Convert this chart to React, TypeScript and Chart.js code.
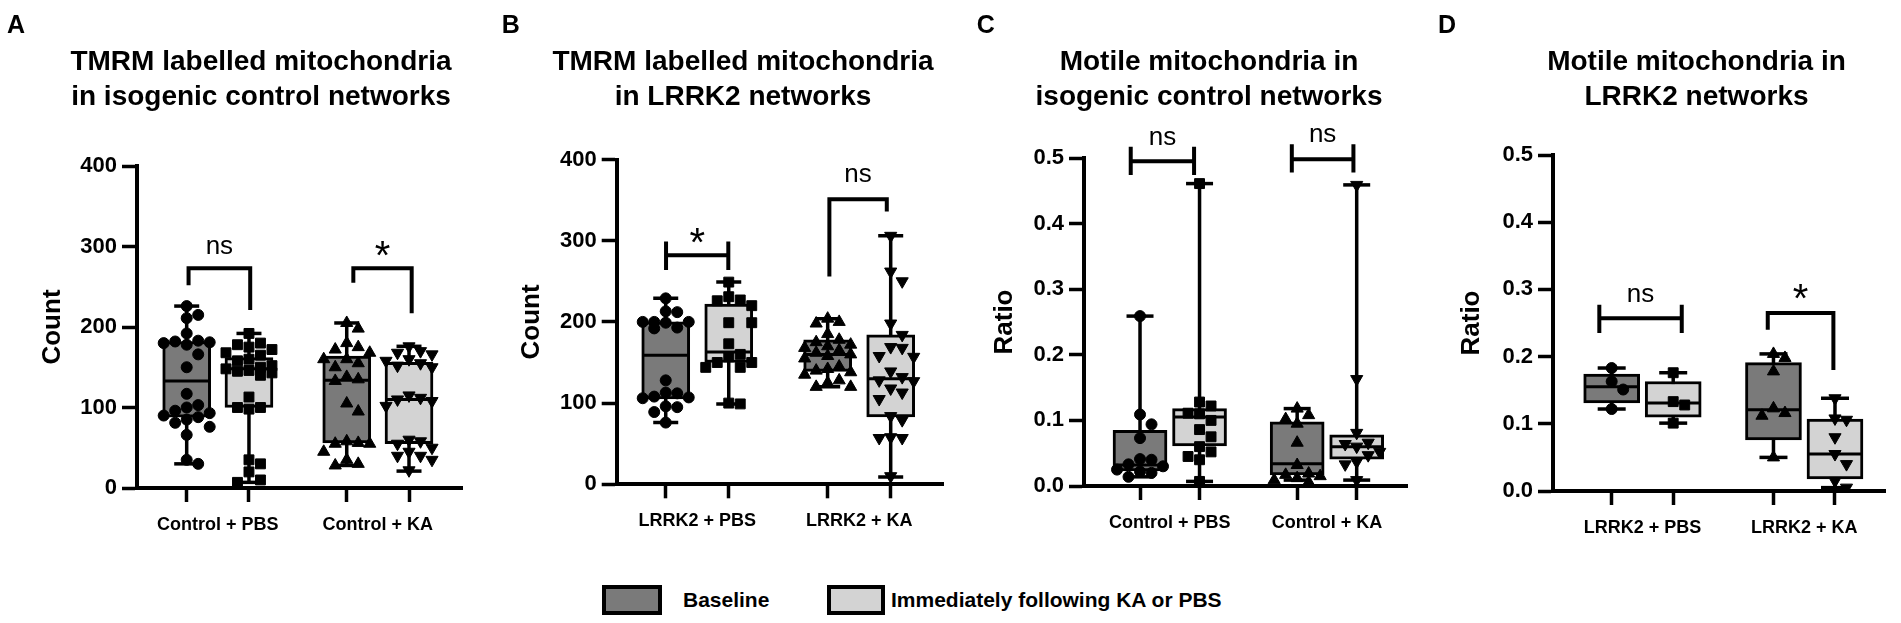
import React, { useEffect, useRef } from 'react';
import { Chart, registerables } from 'chart.js';

Chart.register(...registerables);

const FONT = '"Liberation Sans", Arial, Helvetica, sans-serif';
Chart.defaults.font.family = FONT;
Chart.defaults.color = '#000';

// ---------------- DATA ----------------
const seriesNames = ['Baseline', 'Immediately following KA or PBS'];
const seriesColors = ['#7a7a7a', '#d3d3d3'];

// box stats: [min, q1, median, q3, max]; order: group1 baseline, group1 after, group2 baseline, group2 after
const aTitle = ['TMRM labelled mitochondria', 'in isogenic control networks'];
const aGroups = ['Control + PBS', 'Control + KA'];
const aStats = [
  [30, 88, 133, 182, 226],
  [7, 100, 148, 162, 192],
  [28, 56, 134, 164, 205],
  [21, 55, 110, 156, 176],
];
const aPoints = [
  [226, 215, 211, 192, 183, 182, 181, 180, 178, 166, 150, 117, 103, 100, 96, 93, 90, 88, 85, 81, 76, 66, 35, 30],
  [192, 180, 178, 175, 172, 168, 165, 160, 158, 152, 150, 148, 146, 145, 143, 140, 113, 100, 100, 98, 35, 30, 20, 10, 7],
  [205, 198, 180, 175, 172, 168, 160, 160, 155, 150, 138, 135, 133, 105, 95, 58, 56, 55, 55, 45, 35, 30, 28],
  [176, 170, 168, 166, 160, 158, 155, 152, 150, 115, 112, 110, 108, 102, 60, 58, 55, 50, 45, 40, 40, 35, 22],
];
const aBrackets = [
  { x1: 1.03, x2: 2.02, legL: [273, 252], legR: [273, 221], bar: 273, text: 'ns', ty: 300 },
  { x1: 3.676, x2: 4.613, legL: [273, 255], legR: [273, 217], bar: 273, text: '*', ty: 297 },
];

const bTitle = ['TMRM labelled mitochondria', 'in LRRK2 networks'];
const bGroups = ['LRRK2 + PBS', 'LRRK2 + KA'];
const bStats = [
  [76, 105, 159, 200, 229],
  [99, 150, 163, 222, 249],
  [120, 139, 160, 178, 204],
  [9, 83, 130, 184, 306],
];
const bPoints = [
  [229, 213, 212, 200, 200, 200, 199, 193, 192, 128, 113, 112, 108, 107, 106, 96, 95, 89, 76],
  [249, 231, 227, 226, 220, 199, 199, 173, 160, 157, 150, 150, 144, 144, 100, 99],
  [204, 200, 198, 185, 178, 175, 172, 170, 168, 165, 162, 160, 158, 155, 145, 142, 140, 138, 135, 128, 125, 120, 120],
  [306, 262, 250, 198, 184, 169, 168, 158, 157, 139, 132, 128, 127, 118, 113, 105, 84, 79, 58, 57, 57, 10],
];
const bBrackets = [
  { x1: 1.005, x2: 1.993, legL: [299, 264], legR: [299, 264], bar: 282, text: '*', ty: 307 },
  { x1: 3.597, x2: 4.508, legL: [351, 256], legR: [351, 336], bar: 351, text: 'ns', ty: 381 },
];

const cTitle = ['Motile mitochondria in', 'isogenic control networks'];
const cGroups = ['Control + PBS', 'Control + KA'];
const cStats = [
  [0.014, 0.023, 0.032, 0.085, 0.259],
  [0.007, 0.061, 0.105, 0.118, 0.461],
  [0.009, 0.017, 0.034, 0.098, 0.118],
  [0.009, 0.041, 0.06, 0.078, 0.459],
];
const cPoints = [
  [0.259, 0.109, 0.094, 0.073, 0.041, 0.04, 0.033, 0.03, 0.025, 0.022, 0.02, 0.014],
  [0.461, 0.128, 0.122, 0.111, 0.11, 0.1, 0.086, 0.075, 0.06, 0.052, 0.045, 0.04, 0.007],
  [0.118, 0.108, 0.102, 0.095, 0.066, 0.032, 0.019, 0.017, 0.015, 0.012, 0.009, 0.006],
  [0.459, 0.163, 0.081, 0.066, 0.064, 0.06, 0.052, 0.047, 0.037, 0.033, 0.009],
];
const cBrackets = [
  { x1: 0.844, x2: 1.908, legL: [0.517, 0.474], legR: [0.517, 0.474], bar: 0.495, text: 'ns', ty: 0.53 },
  { x1: 3.55, x2: 4.585, legL: [0.521, 0.478], legR: [0.521, 0.478], bar: 0.498, text: 'ns', ty: 0.535 },
];

const dTitle = ['Motile mitochondria in', 'LRRK2 networks'];
const dGroups = ['LRRK2 + PBS', 'LRRK2 + KA'];
const dStats = [
  [0.122, 0.131, 0.155, 0.174, 0.183],
  [0.101, 0.11, 0.131, 0.163, 0.176],
  [0.05, 0.076, 0.121, 0.191, 0.204],
  [0.005, 0.018, 0.055, 0.107, 0.138],
];
const dPoints = [
  [0.183, 0.163, 0.151, 0.122],
  [0.176, 0.133, 0.128, 0.101],
  [0.204, 0.198, 0.178, 0.123, 0.116, 0.112, 0.05],
  [0.138, 0.108, 0.106, 0.08, 0.055, 0.04, 0.015, 0.005],
];
const dBrackets = [
  { x1: 0.799, x2: 2.139, legL: [0.277, 0.235], legR: [0.277, 0.235], bar: 0.257, text: 'ns', ty: 0.292 },
  { x1: 3.537, x2: 4.604, legL: [0.265, 0.24], legR: [0.265, 0.18], bar: 0.265, text: '*', ty: 0.297 },
];

// ---------------- STYLE / LAYOUT ----------------
const CANVAS_H = 545;
const pointStyles = ['circle', 'rect', 'triangle', 'triangle'];
const pointRotations = [0, 0, 0, 180];
const pointRadii = [5.5, 7, 7, 7];

type Bracket = { x1: number; x2: number; legL: number[]; legR: number[]; bar: number; text: string; ty: number };
interface PanelCfg {
  letter: string; title: string[]; groups: string[]; yTitle: string;
  stats: number[][]; points: number[][]; brackets: Bracket[];
  yMax: number; yStep: number; yDecimals: number;
  left: number; titleCenter: number; chartLeft: number; chartRight: number;
  chartTop: number; chartBottom: number; yTitleCenter: number;
  gap: number; xMin: number; xMax: number; boxW: number; capR: number; letterX: number;
}

const panels: PanelCfg[] = [
  { letter: 'A', title: aTitle, groups: aGroups, yTitle: 'Count', stats: aStats, points: aPoints, brackets: aBrackets,
    yMax: 400, yStep: 100, yDecimals: 0,
    left: 0, titleCenter: 261, chartLeft: 137, chartRight: 462, chartTop: 166, chartBottom: 488, yTitleCenter: 52.5,
    gap: 2.57, xMin: 0.202, xMax: 5.421, boxW: 48, capR: 12.5, letterX: 7 },
  { letter: 'B', title: bTitle, groups: bGroups, yTitle: 'Count', stats: bStats, points: bPoints, brackets: bBrackets,
    yMax: 400, yStep: 100, yDecimals: 0,
    left: 470, titleCenter: 743, chartLeft: 616.7, chartRight: 943, chartTop: 159.5, chartBottom: 484.3, yTitleCenter: 531.7,
    gap: 2.57, xMin: 0.222, xMax: 5.4, boxW: 48, capR: 12.5, letterX: 501.7 },
  { letter: 'C', title: cTitle, groups: cGroups, yTitle: 'Ratio', stats: cStats, points: cPoints, brackets: cBrackets,
    yMax: 0.5, yStep: 0.1, yDecimals: 1,
    left: 950, titleCenter: 1209, chartLeft: 1084, chartRight: 1407, chartTop: 158, chartBottom: 486, yTitleCenter: 1005,
    gap: 2.64, xMin: 0.059, xMax: 5.485, boxW: 54, capR: 13.5, letterX: 976.7 },
  { letter: 'D', title: dTitle, groups: dGroups, yTitle: 'Ratio', stats: dStats, points: dPoints, brackets: dBrackets,
    yMax: 0.5, yStep: 0.1, yDecimals: 1,
    left: 1415, titleCenter: 1696.7, chartLeft: 1553, chartRight: 1885, chartTop: 155, chartBottom: 491, yTitleCenter: 1472,
    gap: 2.63, xMin: 0.046, xMax: 5.443, boxW: 56, capR: 14, letterX: 1438 },
];

const boxX = (i: number, gap: number) => 1 + (i % 2) + Math.floor(i / 2) * gap;

// deterministic beeswarm placement so markers do not overlap
function swarm(values: number[], cx: number, dxUnit: number, dyUnit: number, maxOff: number) {
  const placed: { x: number; y: number }[] = [];
  const sorted = [...values].sort((a, b) => b - a);
  const steps = Math.max(0, Math.floor(maxOff / dxUnit));
  const cands: number[] = [0];
  for (let k = 1; k <= steps; k++) cands.push(k * dxUnit, -k * dxUnit);
  for (const v of sorted) {
    let bestOff = 0;
    let bestScore = -Infinity;
    for (const off of cands) {
      let minD = Infinity;
      for (const p of placed) {
        const d = Math.hypot((p.x - (cx + off)) / dxUnit, (p.y - v) / dyUnit);
        if (d < minD) minD = d;
      }
      if (minD >= 1) { bestOff = off; break; }
      if (minD > bestScore) { bestScore = minD; bestOff = off; }
    }
    placed.push({ x: cx + bestOff, y: v });
  }
  return placed;
}

function annotationPlugin(cfg: PanelCfg) {
  return {
    id: 'annot' + cfg.letter,
    afterDraw(chart: any) {
      const { ctx } = chart;
      const xS = chart.scales.x;
      const yS = chart.scales.y;
      ctx.save();
      ctx.fillStyle = '#000';
      ctx.strokeStyle = '#000';
      ctx.font = `bold 25px ${FONT}`;
      ctx.textAlign = 'left';
      ctx.textBaseline = 'alphabetic';
      ctx.fillText(cfg.letter, cfg.letterX - cfg.left, 33);
      ctx.lineWidth = 4;
      ctx.lineJoin = 'miter';
      ctx.lineCap = 'butt';
      for (const b of cfg.brackets) {
        const xl = xS.getPixelForValue(b.x1);
        const xr = xS.getPixelForValue(b.x2);
        const yb = yS.getPixelForValue(b.bar);
        ctx.beginPath();
        if (b.legL[0] === b.bar && b.legR[0] === b.bar) {
          ctx.moveTo(xl, yS.getPixelForValue(b.legL[1]));
          ctx.lineTo(xl, yb);
          ctx.lineTo(xr, yb);
          ctx.lineTo(xr, yS.getPixelForValue(b.legR[1]));
        } else {
          ctx.moveTo(xl, yS.getPixelForValue(b.legL[0]));
          ctx.lineTo(xl, yS.getPixelForValue(b.legL[1]));
          ctx.moveTo(xr, yS.getPixelForValue(b.legR[0]));
          ctx.lineTo(xr, yS.getPixelForValue(b.legR[1]));
          ctx.moveTo(xl, yb);
          ctx.lineTo(xr, yb);
        }
        ctx.stroke();
        ctx.font = b.text === '*' ? `40px ${FONT}` : `26px ${FONT}`;
        ctx.textAlign = 'center';
        ctx.textBaseline = 'alphabetic';
        const m = ctx.measureText(b.text);
        const cy = yS.getPixelForValue(b.ty);
        ctx.fillText(b.text, (xl + xr) / 2, cy + (m.actualBoundingBoxAscent - m.actualBoundingBoxDescent) / 2);
      }
      ctx.restore();
    },
  };
}

function Panel({ cfg }: { cfg: PanelCfg }) {
  const ref = useRef<HTMLCanvasElement | null>(null);
  // the title is centred on the canvas, so the canvas spans twice the distance to the title centre
  const width = Math.round(2 * (cfg.titleCenter - cfg.left));
  useEffect(() => {
    if (!ref.current) return;
    const xs = cfg.stats.map((_, i) => boxX(i, cfg.gap));
    const chartW = cfg.chartRight - cfg.chartLeft;
    const chartH = cfg.chartBottom - cfg.chartTop;
    const pxX = chartW / (cfg.xMax - cfg.xMin);
    const dxUnit = 11.5 / pxX;
    const dyUnit = (11.5 * cfg.yMax) / chartH;
    const maxOff = (cfg.boxW / 2 + 2) / pxX;
    const yAxisW = cfg.chartLeft - cfg.left;
    const rightW = cfg.left + width - cfg.chartRight;

    const datasets: any[] = [
      {
        type: 'bar', label: 'whisker', xAxisID: 'x', yAxisID: 'y',
        data: cfg.stats.map((s, i) => ({ x: xs[i], y: [s[0], s[4]] })),
        backgroundColor: '#000', borderWidth: 0, grouped: false, maxBarThickness: 3.5, order: 6,
      },
      {
        type: 'bar', label: 'box', xAxisID: 'x', yAxisID: 'y',
        data: cfg.stats.map((s, i) => ({ x: xs[i], y: [s[1], s[3]] })),
        backgroundColor: cfg.stats.map((_, i) => seriesColors[i % 2]),
        borderColor: '#000', borderWidth: 3, borderSkipped: false, grouped: false,
        barPercentage: 1, categoryPercentage: 1,
        maxBarThickness: cfg.boxW, order: 5,
      },
      {
        type: 'scatter', label: 'median', xAxisID: 'x', yAxisID: 'y',
        data: cfg.stats.map((s, i) => ({ x: xs[i], y: s[2] })),
        pointStyle: 'line', pointRadius: cfg.boxW / 2 - 2, pointBorderWidth: 3, pointBorderColor: '#000', order: 4,
      },
      {
        type: 'scatter', label: 'caps', xAxisID: 'x', yAxisID: 'y',
        data: cfg.stats.flatMap((s, i) => [{ x: xs[i], y: s[0] }, { x: xs[i], y: s[4] }]),
        pointStyle: 'line', pointRadius: cfg.capR, pointBorderWidth: 3.5, pointBorderColor: '#000', order: 3,
      },
      ...cfg.points.map((vals, i) => ({
        type: 'scatter', label: 'pts' + i, xAxisID: 'x', yAxisID: 'y',
        data: swarm(vals, xs[i], dxUnit, dyUnit, maxOff),
        pointStyle: pointStyles[i], pointRotation: pointRotations[i], pointRadius: pointRadii[i],
        pointBackgroundColor: '#000', pointBorderColor: '#000', pointBorderWidth: 1, order: 1,
      })),
    ];

    const chart = new Chart(ref.current, {
      type: 'bar',
      data: { datasets },
      options: {
        animation: false,
        responsive: false,
        events: [],
        layout: { padding: 0 },
        plugins: {
          legend: { display: false },
          tooltip: { enabled: false },
          title: {
            display: true,
            text: cfg.title,
            color: '#000',
            font: { family: FONT, size: 28, weight: 'bold', lineHeight: 1.25 },
            padding: { top: 44.5, bottom: cfg.chartTop - 114.5 },
          },
        },
        scales: {
          x: {
            type: 'linear',
            min: cfg.xMin,
            max: cfg.xMax,
            offset: false,
            afterBuildTicks: (s: any) => { s.ticks = xs.map((v) => ({ value: v })); },
            afterFit: (s: any) => { s.height = CANVAS_H - cfg.chartBottom; },
            ticks: {
              autoSkip: false, maxRotation: 0, minRotation: 0, padding: 12, color: '#000',
              labelOffset: pxX / 2,
              font: { family: FONT, size: 18, weight: 'bold' },
              callback: (_v: any, idx: number) => (idx % 2 === 0 ? cfg.groups[idx / 2] : ''),
            },
            grid: { drawOnChartArea: false, offset: false, tickLength: 14, tickWidth: 3.5, tickColor: '#000' },
            border: { display: true, width: 4, color: '#000' },
          },
          y: {
            type: 'linear',
            position: 'left',
            min: 0,
            max: cfg.yMax,
            afterFit: (s: any) => { s.width = yAxisW; },
            ticks: {
              stepSize: cfg.yStep, padding: 5, color: '#000',
              font: { family: FONT, size: 22, weight: 'bold' },
              callback: (v: any) => Number(v).toFixed(cfg.yDecimals),
            },
            grid: { drawOnChartArea: false, tickLength: 15, tickWidth: 3.5, tickColor: '#000' },
            border: { display: true, width: 4, color: '#000' },
            title: {
              display: true, text: cfg.yTitle, color: '#000',
              font: { family: FONT, size: 26, weight: 'bold', lineHeight: 1.2 },
              padding: { top: cfg.yTitleCenter - cfg.left - 15.6, bottom: 0 },
            },
          },
          yr: {
            type: 'linear',
            position: 'right',
            min: 0,
            max: 1,
            afterFit: (s: any) => { s.width = rightW; },
            ticks: { display: false },
            grid: { display: false },
            border: { display: false },
          },
        },
      } as any,
      plugins: [annotationPlugin(cfg)],
    });
    return () => chart.destroy();
  }, [cfg, width]);
  return (
    <canvas
      ref={ref}
      width={width}
      height={CANVAS_H}
      style={{ position: 'absolute', left: cfg.left, top: 0, width, height: CANVAS_H }}
    />
  );
}

export default function App() {
  const legendText: React.CSSProperties = {
    position: 'absolute', top: 585, height: 30, display: 'flex', alignItems: 'center',
    font: `bold 21px ${FONT}`, color: '#000', whiteSpace: 'nowrap',
  };
  const swatch: React.CSSProperties = {
    position: 'absolute', top: 585, height: 30, boxSizing: 'border-box', border: '4px solid #000',
  };
  return (
    <div style={{ position: 'fixed', left: 0, top: 0, width: 1901, height: 623, background: '#fff', overflow: 'hidden' }}>
      {panels.map((p) => <Panel key={p.letter} cfg={p} />)}
      <div style={{ ...swatch, left: 602, width: 60, background: seriesColors[0] }} />
      <div style={{ ...legendText, left: 683 }}>{seriesNames[0]}</div>
      <div style={{ ...swatch, left: 827, width: 58, background: seriesColors[1] }} />
      <div style={{ ...legendText, left: 891 }}>{seriesNames[1]}</div>
    </div>
  );
}
